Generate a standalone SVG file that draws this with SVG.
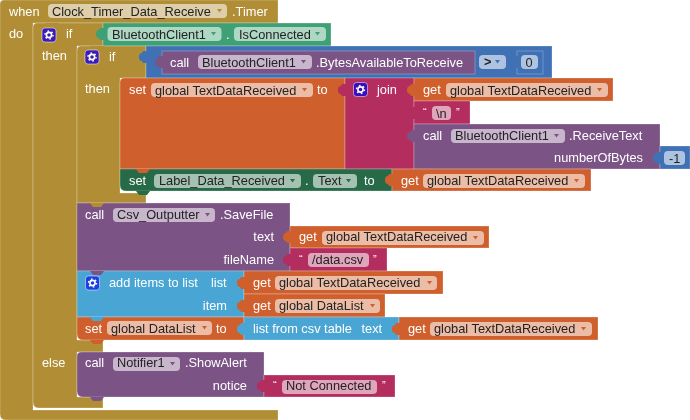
<svg xmlns="http://www.w3.org/2000/svg" width="690" height="420" viewBox="0 0 690 420">
<style>
text{font-family:"Liberation Sans",Arial,sans-serif;font-size:12.8px;fill:#fff}
text.d{fill:#222}
text.e{text-anchor:end}
text.q{font-size:11px}
.p{fill:#fff;fill-opacity:.58}
.b{stroke:#fff;stroke-opacity:.25;stroke-width:1}
.gold{fill:#B18E35}.green{fill:#3FA074}.purple{fill:#7C5385}.blue{fill:#3F71B5}.orange{fill:#D05F2D}.mag{fill:#B32D5E}.dgreen{fill:#266B47}.lblue{fill:#49A6D4}
</style>
<defs>
<path id="tab" d="M1,0H-2Q-4,0-4,2Q-7,2-7,6Q-7,10-4,10Q-4,12-2,12H1Z"/>
<path id="bump" d="M0,0H14L11,4H3Z"/>
<path id="arr" d="M0,0H5L2.5,3.5Z"/>
<g id="gear"><rect x="0" y="0" width="14" height="14" rx="3" stroke="#fff" stroke-opacity=".5"/><circle cx="7" cy="7" r="2.6" fill="none" stroke="#fff" stroke-width="1.6"/><circle cx="7" cy="7" r="4" fill="none" stroke="#fff" stroke-width="1.4" stroke-dasharray="1.6 2.59"/></g>
<filter id="soft" x="0" y="0" width="100%" height="100%"><feGaussianBlur stdDeviation="0.3"/></filter>
</defs>
<g filter="url(#soft)">
<g id="when-timer">
<path class="gold b" d="M0,4Q0,0 4,0H278V23H33V410H278V420H6Q0,420 0,414Z"/>
<text x="9" y="16">when</text>
<rect class="p" x="48" y="4" width="179" height="14" rx="4"/>
<text class="d" x="52" y="16">Clock_Timer_Data_Receive</text>
<use href="#arr" class="gold" x="217" y="9"/>
<text x="232" y="16">.Timer</text>
<text x="9" y="38">do</text>
</g>

<g id="if-outer">
<path class="gold b" d="M33,27Q33,23 37,23H103V46H77V340H103V352H77V397H103V408H39Q33,408 33,402Z"/>
<use href="#gear" x="42" y="28" fill="#3A1FB5"/>
<text x="66" y="38">if</text>
<text x="42" y="60">then</text>
<text x="42" y="367">else</text>
<use href="#bump" class="gold" x="45" y="23"/>
</g>

<g id="is-connected">
<rect class="green b" x="103" y="23" width="228" height="23"/>
<use href="#tab" class="green" x="103" y="28"/>
<rect class="p" x="107.500" y="27" width="114" height="14" rx="4"/>
<text class="d" x="112" y="39">BluetoothClient1</text>
<use href="#arr" class="green" x="211" y="32"/>
<text x="226" y="39">.</text>
<rect class="p" x="234" y="27" width="92" height="14" rx="4"/>
<text class="d" x="239" y="39">IsConnected</text>
<use href="#arr" class="green" x="315" y="32"/>
</g>

<g id="if-inner">
<path class="gold b" d="M77,50Q77,46 81,46H146V78H120V193H146V203H77Z"/>
<use href="#bump" class="gold" x="90" y="46"/>
<use href="#gear" x="85" y="50" fill="#3A1FB5"/>
<text x="109" y="61">if</text>
<text x="85" y="93">then</text>
</g>

<g id="compare">
<rect class="blue b" x="146" y="46" width="406" height="32"/>
<use href="#tab" class="blue" x="146" y="51"/>
<rect class="p" x="479" y="55" width="27" height="14" rx="4"/>
<text class="d" x="484" y="66" font-weight="bold">&gt;</text>
<use href="#arr" class="blue" x="495" y="60"/>
</g>

<g id="bytes-available">
<rect class="purple b" x="162" y="51" width="313" height="23"/>
<use href="#tab" class="purple" x="162" y="56"/>
<text x="170" y="67">call</text>
<rect class="p" x="198" y="55" width="114" height="14" rx="4"/>
<text class="d" x="202" y="67">BluetoothClient1</text>
<use href="#arr" class="purple" x="301" y="60"/>
<text x="316" y="67">.BytesAvailableToReceive</text>
</g>

<g id="num-zero">
<rect class="blue b" x="517" y="51" width="26" height="23"/>
<use href="#tab" class="blue" x="517" y="56"/>
<rect class="p" x="521" y="55" width="17" height="14" rx="4"/>
<text class="d" x="525.500" y="67">0</text>
</g>

<g id="set-text">
<path class="orange b" d="M120,82Q120,78 124,78H345V169H120Z"/>
<text x="129" y="94">set</text>
<rect class="p" x="151" y="83" width="162" height="14" rx="4"/>
<text class="d" x="155" y="95">global TextDataReceived</text>
<use href="#arr" class="orange" x="302" y="88"/>
<text x="317" y="94">to</text>
</g>

<g id="join">
<rect class="mag b" x="345" y="78" width="69" height="91"/>
<use href="#tab" class="mag" x="345" y="84"/>
<use href="#gear" x="353.500" y="82.500" fill="#3A10C0"/>
<text x="377" y="94">join</text>
</g>

<g id="get-text-1">
<rect class="orange b" x="414" y="78" width="199" height="23"/>
<use href="#tab" class="orange" x="414" y="84"/>
<text x="423" y="94">get</text>
<rect class="p" x="446" y="83" width="162" height="14" rx="4"/>
<text class="d" x="450" y="95">global TextDataReceived</text>
<use href="#arr" class="orange" x="597" y="88"/>
</g>

<g id="newline">
<rect class="mag b" x="414" y="101" width="56" height="23"/>
<use href="#tab" class="mag" x="414" y="107"/>
<text class="q" x="423" y="116">“</text>
<rect class="p" x="432" y="106" width="19" height="14" rx="4"/>
<text class="d" x="436" y="118">\n</text>
<text class="q" x="456" y="116">”</text>
</g>

<g id="receive-text">
<rect class="purple b" x="414" y="124" width="246" height="45"/>
<use href="#tab" class="purple" x="414" y="130"/>
<text x="423" y="140">call</text>
<rect class="p" x="451" y="129" width="114" height="14" rx="4"/>
<text class="d" x="455" y="140">BluetoothClient1</text>
<use href="#arr" class="purple" x="554" y="134"/>
<text x="569" y="140">.ReceiveText</text>
<text class="e" x="643" y="162">numberOfBytes</text>
</g>

<g id="num-minus-one">
<rect class="blue b" x="660" y="146" width="30" height="23"/>
<use href="#tab" class="blue" x="660" y="152"/>
<rect class="p" x="664" y="151" width="21" height="14" rx="4"/>
<text class="d" x="669" y="163">-1</text>
</g>

<g id="set-label">
<path class="dgreen b" d="M120,169H392V191H126Q120,191 120,185Z"/>
<use href="#bump" class="orange" x="136" y="169"/>
<text x="129" y="185">set</text>
<rect class="p" x="154" y="174" width="147" height="14" rx="4"/>
<text class="d" x="159" y="185">Label_Data_Received</text>
<use href="#arr" class="dgreen" x="290" y="179"/>
<text x="305" y="185">.</text>
<rect class="p" x="313" y="174" width="44" height="14" rx="4"/>
<text class="d" x="318" y="185">Text</text>
<use href="#arr" class="dgreen" x="346" y="179"/>
<text x="364" y="185">to</text>
<use href="#bump" class="dgreen" x="136" y="191"/>
</g>

<g id="get-text-2">
<rect class="orange b" x="392" y="169" width="199" height="22"/>
<use href="#tab" class="orange" x="392" y="174"/>
<text x="401" y="185">get</text>
<rect class="p" x="423" y="174" width="162" height="14" rx="4"/>
<text class="d" x="427" y="185">global TextDataReceived</text>
<use href="#arr" class="orange" x="574" y="179"/>
</g>

<g id="save-file">
<rect class="purple b" x="77" y="203" width="213" height="68"/>
<use href="#bump" class="gold" x="90" y="203"/>
<text x="85" y="219">call</text>
<rect class="p" x="113" y="208" width="102" height="14" rx="4"/>
<text class="d" x="117" y="219">Csv_Outputter</text>
<use href="#arr" class="purple" x="205" y="213"/>
<text x="220" y="219">.SaveFile</text>
<text class="e" x="274" y="241">text</text>
<text class="e" x="274" y="264">fileName</text>
</g>

<g id="get-text-3">
<rect class="orange b" x="290" y="226" width="199" height="22"/>
<use href="#tab" class="orange" x="290" y="231"/>
<text x="299" y="241">get</text>
<rect class="p" x="322" y="231" width="162" height="14" rx="4"/>
<text class="d" x="326" y="241">global TextDataReceived</text>
<use href="#arr" class="orange" x="473" y="236"/>
</g>

<g id="file-name">
<rect class="mag b" x="290" y="248" width="97" height="23"/>
<use href="#tab" class="mag" x="290" y="254"/>
<text class="q" x="299" y="263">“</text>
<rect class="p" x="308" y="253" width="61" height="14" rx="4"/>
<text class="d" x="312" y="264">/data.csv</text>
<text class="q" x="373" y="263">”</text>
</g>

<g id="add-items">
<rect class="lblue b" x="77" y="271" width="167" height="46"/>
<use href="#bump" class="purple" x="90" y="271"/>
<use href="#gear" x="85.500" y="276" fill="#1A3FE0"/>
<text x="109" y="287">add items to list</text>
<text x="211" y="287">list</text>
<text class="e" x="227" y="310">item</text>
</g>

<g id="get-text-4">
<rect class="orange b" x="244" y="271" width="199" height="23"/>
<use href="#tab" class="orange" x="244" y="277"/>
<text x="253" y="287">get</text>
<rect class="p" x="275" y="276" width="162" height="14" rx="4"/>
<text class="d" x="279" y="287">global TextDataReceived</text>
<use href="#arr" class="orange" x="427" y="281"/>
</g>

<g id="get-list">
<rect class="orange b" x="244" y="294" width="141" height="23"/>
<use href="#tab" class="orange" x="244" y="300"/>
<text x="253" y="310">get</text>
<rect class="p" x="275" y="299" width="105" height="14" rx="4"/>
<text class="d" x="279" y="310">global DataList</text>
<use href="#arr" class="orange" x="370" y="304"/>
</g>

<g id="set-list">
<path class="orange b" d="M77,317H244V340H83Q77,340 77,334Z"/>
<use href="#bump" class="lblue" x="90" y="317"/>
<text x="85" y="333">set</text>
<rect class="p" x="107" y="321" width="105" height="14" rx="4"/>
<text class="d" x="111" y="333">global DataList</text>
<use href="#arr" class="orange" x="202" y="326"/>
<text x="216" y="333">to</text>
<use href="#bump" class="orange" x="90" y="340"/>
</g>

<g id="csv-table">
<rect class="lblue b" x="244" y="317" width="155" height="23"/>
<use href="#tab" class="lblue" x="244" y="323"/>
<text x="253" y="333">list from csv table</text>
<text x="361.500" y="333">text</text>
</g>

<g id="get-text-5">
<rect class="orange b" x="399" y="317" width="199" height="23"/>
<use href="#tab" class="orange" x="399" y="323"/>
<text x="408" y="333">get</text>
<rect class="p" x="430" y="322" width="162" height="14" rx="4"/>
<text class="d" x="434" y="333">global TextDataReceived</text>
<use href="#arr" class="orange" x="581" y="327"/>
</g>

<g id="show-alert">
<path class="purple b" d="M77,356Q77,352 81,352H264V397H83Q77,397 77,391Z"/>
<text x="85" y="367">call</text>
<rect class="p" x="113" y="357" width="67" height="14" rx="4"/>
<text class="d" x="117" y="367">Notifier1</text>
<use href="#arr" class="purple" x="170" y="362"/>
<text x="185" y="367">.ShowAlert</text>
<text class="e" x="247" y="390">notice</text>
<use href="#bump" class="purple" x="90" y="397"/>
</g>

<g id="not-connected">
<rect class="mag b" x="264" y="375" width="131" height="22"/>
<use href="#tab" class="mag" x="264" y="380"/>
<text class="q" x="273" y="389">“</text>
<rect class="p" x="282" y="380" width="95" height="14" rx="4"/>
<text class="d" x="286" y="390">Not Connected</text>
<text class="q" x="382" y="389">”</text>
</g>
</g>
</svg>
